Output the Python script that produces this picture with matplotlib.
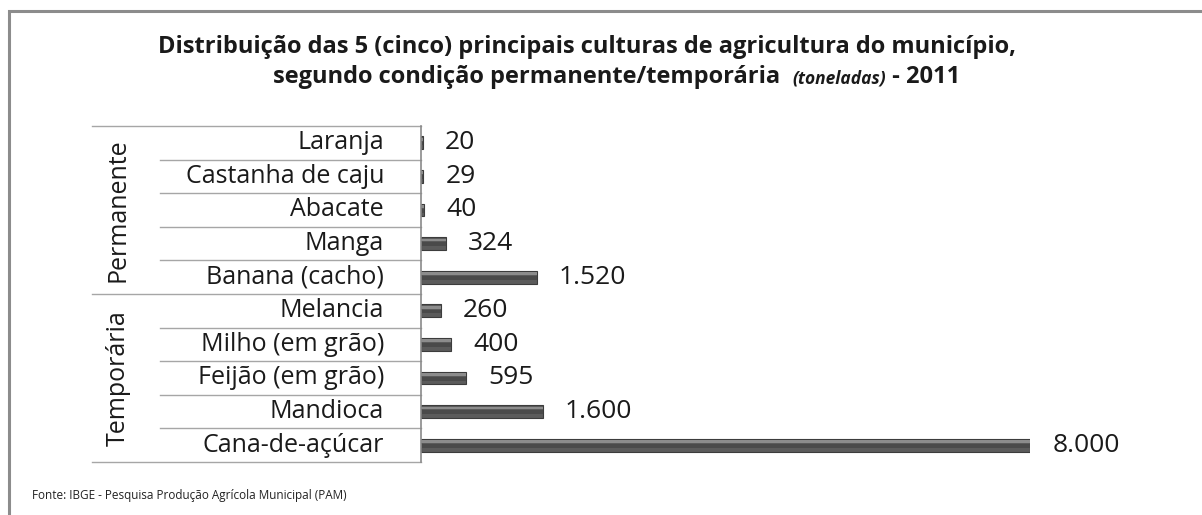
import numpy as np
import matplotlib
matplotlib.use('Agg')
import matplotlib.pyplot as plt
from matplotlib.patches import Rectangle
from matplotlib.lines import Line2D

# data (top to bottom)
culturas = ['Laranja', 'Castanha de caju', 'Abacate', 'Manga', 'Banana (cacho)',
            'Melancia', 'Milho (em grão)', 'Feijão (em grão)', 'Mandioca', 'Cana-de-açúcar']
toneladas = [20, 29, 40, 324, 1520, 260, 400, 595, 1600, 8000]
grupos = ['Permanente', 'Temporária']
n_por_grupo = [5, 5]

plt.rcParams['font.family'] = ['Open Sans', 'DejaVu Sans']

W, H = 1202, 515
fig = plt.figure(figsize=(W / 100, H / 100), dpi=100)
fig.patch.set_facecolor('white')

def fx(px):
    return px / W

def fy(py):
    return 1 - py / H

# axes: x from 421px to 1030px (8000), y from 126px to 462px
ax = fig.add_axes([fx(421), fy(462), fx(1030) - fx(421), fy(126) - fy(462)])
ax.set_xlim(0, 8000)
ax.set_ylim(len(culturas) - 0.5, -0.5)
ax.axis('off')

y = np.arange(len(culturas))
bh = 0.38
# bar with a simple bevel look
ax.barh(y, toneladas, height=bh, color='#5b5b5b', edgecolor='#3c3c3c', linewidth=0.8, zorder=3)
ax.barh(y - bh * 0.28, toneladas, height=bh * 0.22, color='#8c8c8c', linewidth=0, zorder=4)
ax.barh(y + bh * 0.06, toneladas, height=bh * 0.3, color='#4a4a4a', linewidth=0, zorder=4)

for yi, v in zip(y, toneladas):
    s = f'{v:,}'.replace(',', '.')
    ax.annotate(s, (v, yi), xytext=(16, 0), textcoords='offset points',
                va='center', ha='left', fontsize=19, color='#1a1a1a', annotation_clip=False)

# table on the left
line_c = '#a6a6a6'
def hline(x0, x1, py, c=line_c, lw=1.0):
    fig.add_artist(Line2D([fx(x0), fx(x1)], [fy(py), fy(py)], color=c, lw=lw, transform=fig.transFigure))

row_h = (462 - 126) / len(culturas)
hline(92, 421, 126)
hline(92, 421, 462)
hline(92, 421, 126 + 5 * row_h)
for i in range(1, len(culturas)):
    if i != 5:
        hline(160, 421, 126 + i * row_h)
fig.add_artist(Line2D([fx(421), fx(421)], [fy(126), fy(462)], color='#8a8a8a', lw=1.2,
                      transform=fig.transFigure))

for i, nome in enumerate(culturas):
    fig.text(fx(384), fy(126 + (i + 0.5) * row_h), nome, ha='right', va='center',
             fontsize=18, color='#1a1a1a')

start = 0
for g, n in zip(grupos, n_por_grupo):
    cy = 126 + (start + n / 2) * row_h
    fig.text(fx(118), fy(cy), g, rotation=90, ha='center', va='center', fontsize=18, color='#1a1a1a')
    start += n

# title
fig.text(fx(587), fy(47), 'Distribuição das 5 (cinco) principais culturas de agricultura do município,',
         ha='center', va='center', fontsize=17, fontweight='bold', color='#1a1a1a')

partes = [('segundo condição permanente/temporária  ', 17, 'normal', 0),
          ('(toneladas)', 12.5, 'italic', 1),
          (' - 2011', 17, 'normal', 0)]
renderer = fig.canvas.get_renderer()
textos = []
for s, fs, st, dy in partes:
    t = fig.text(0, fy(77 + dy), s, ha='left', va='center', fontsize=fs, fontweight='bold',
                 fontstyle=st, color='#1a1a1a')
    textos.append(t)
larg = [t.get_window_extent(renderer).width for t in textos]
x0 = 617 - sum(larg) / 2
for t, w in zip(textos, larg):
    t.set_x(fx(x0))
    x0 += w

# source
fig.text(fx(32), fy(495), 'Fonte: IBGE - Pesquisa Produção Agrícola Municipal (PAM)',
         ha='left', va='center', fontsize=8.5, color='#222222')

# outer frame
fig.add_artist(Rectangle((fx(9), -0.2), 1.2, fy(11) + 0.2, fill=False, edgecolor='#8c8c8c',
                         lw=2.2, transform=fig.transFigure))

fig.savefig('out.png', dpi=100, facecolor='white')
